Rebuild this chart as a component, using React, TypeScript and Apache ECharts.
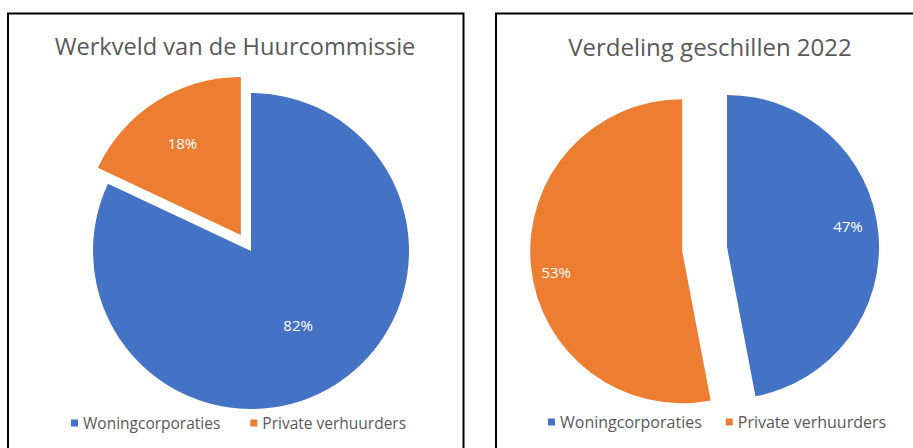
import React, { useEffect, useRef } from "react";
import * as echarts from "echarts";

const categories = ["Woningcorporaties", "Private verhuurders"];
const werkveldValues = [82, 18];
const geschillenValues = [47, 53];
const titles = ["Werkveld van de Huurcommissie", "Verdeling geschillen 2022"];
const colors = ["#4472C4", "#ED7D31"];

const FONT = "Open Sans";
const GRAY = "#595959";

export default function App() {
  const ref = useRef<HTMLDivElement>(null);
  useEffect(() => {
    if (!ref.current) return;
    const chart = echarts.init(ref.current, undefined, { renderer: "svg" });

    const mainPie = (center: number[], radius: number, offset: number, vals: number[]) => ({
      type: "pie",
      center,
      radius,
      startAngle: 90,
      clockwise: true,
      selectedMode: "single",
      selectedOffset: offset,
      silent: true,
      label: { show: false },
      labelLine: { show: false },
      emphasis: { disabled: true },
      data: vals.map((v, i) => ({
        name: categories[i],
        value: v,
        selected: i === 1,
        itemStyle: { color: colors[i] },
      })),
    });

    // transparent helper pie that only carries the percentage labels
    const labelPie = (
      center: number[],
      radius: number,
      offset: number,
      vals: number[],
      showIdx: number[],
      labelOffsets: number[][]
    ) => ({
      type: "pie",
      center,
      radius,
      startAngle: 90,
      clockwise: true,
      selectedMode: "single",
      selectedOffset: offset,
      silent: true,
      z: 5,
      itemStyle: { color: "transparent", borderWidth: 0 },
      label: {
        show: true,
        position: "inside",
        formatter: "{c}%",
        color: "#ffffff",
        fontFamily: FONT,
        fontSize: 15,
      },
      labelLine: { show: false },
      emphasis: { disabled: true },
      data: vals.map((v, i) => ({
        name: categories[i],
        value: v,
        selected: i === 1,
        itemStyle: { color: "transparent" },
        label: { show: showIdx.includes(i), offset: labelOffsets[i] },
        select: { label: { show: showIdx.includes(i), offset: labelOffsets[i] } },
      })),
    });

    const legendBase = (left: number, top: number, fontSize: number, gap: number) => ({
      orient: "horizontal",
      left,
      top,
      icon: "rect",
      itemWidth: 7,
      itemHeight: 7,
      itemGap: gap,
      selectedMode: false,
      data: categories,
      textStyle: { color: GRAY, fontFamily: FONT, fontSize },
    });

    const titleStyle = { color: GRAY, fontFamily: FONT, fontSize: 24, fontWeight: "normal" };

    chart.setOption({
      animation: false,
      backgroundColor: "#ffffff",
      title: [
        { text: titles[0], left: 230, top: 29, textAlign: "center", textStyle: { ...titleStyle, fontSize: 23.6 } },
        { text: titles[1], left: 705, top: 29, textAlign: "center", textStyle: titleStyle },
      ],
      legend: [legendBase(66, 410, 15.5, 30), legendBase(543, 409, 16, 24)],
      graphic: [
        {
          type: "rect",
          shape: { x: 8, y: 13.5, width: 455.5, height: 460 },
          style: { fill: "none", stroke: "#000000", lineWidth: 2 },
          z: 10,
        },
        {
          type: "rect",
          shape: { x: 496, y: 13.5, width: 460, height: 460 },
          style: { fill: "none", stroke: "#000000", lineWidth: 2 },
          z: 10,
        },
      ],
      series: [
        mainPie([251, 251], 158, 19, werkveldValues),
        mainPie([727, 247], 152, 45, geschillenValues),
        labelPie([251, 251], 170, 19, werkveldValues, [0], [[0, 0], [0, 0]]),
        labelPie([251, 251], 212, 19, werkveldValues, [1], [[0, 0], [0, 0]]),
        labelPie([727, 247], 243, 45, geschillenValues, [0, 1], [[-3, -9], [-2, 9]]),
      ],
    });

    return () => chart.dispose();
  }, []);

  return (
    <div
      ref={ref}
      style={{ position: "fixed", left: 0, top: 0, width: 913, height: 448 }}
    />
  );
}
